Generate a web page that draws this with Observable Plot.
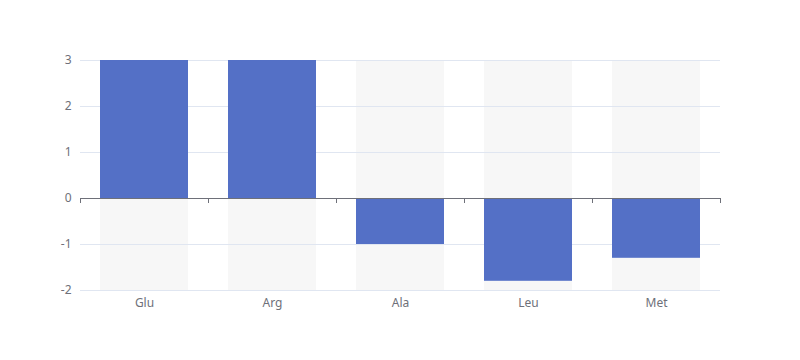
<!DOCTYPE html>
<html>
<head>
<meta charset="utf-8">
<script src="https://cdn.jsdelivr.net/npm/d3@7"></script>
<script src="https://cdn.jsdelivr.net/npm/@observablehq/plot@0.6"></script>
<style>
  html, body { margin: 0; padding: 0; background: #fff; }
  #chart { width: 800px; height: 360px; }
</style>
</head>
<body>
<div id="chart"></div>
<script>
const categories = ["Glu", "Arg", "Ala", "Leu", "Met"];
const values = [3, 3, -1, -1.8, -1.3];
const yTicks = [-2, -1, 0, 1, 2, 3];
const yMin = -2;
const yMax = 3;

const data = categories.map((c, i) => ({ cat: c, value: values[i] }));
const bg = categories.map(c => ({ cat: c, lo: yMin, hi: yMax }));

const textColor = "#6e7079";
const gridColor = "#e0e6f1";
const barColor = "#5470c6";

// zero-line tick marks at category boundaries, positioned via the Plot scales
function boundaryTicks(index, scales, values, dimensions) {
  const x = scales.x, y = scales.y;
  const step = x(categories[1]) - x(categories[0]);
  const left = dimensions.marginLeft;
  const y0 = y(0);
  const g = d3.create("svg:g");
  for (let i = 0; i <= categories.length; i++) {
    const px = left + i * step + 0.5;
    g.append("line")
      .attr("x1", px).attr("x2", px)
      .attr("y1", y0).attr("y2", y0 + 5)
      .attr("stroke", textColor).attr("stroke-width", 1);
  }
  return g.node();
}

const chart = Plot.plot({
  width: 800,
  height: 360,
  marginLeft: 80,
  marginRight: 80,
  marginTop: 60,
  marginBottom: 70,
  style: { fontFamily: "'Noto Sans', 'DejaVu Sans', sans-serif", fontSize: "12px", color: textColor, background: "#fff" },
  x: { domain: categories, paddingInner: 0.3125, paddingOuter: 0.15625, label: null },
  y: { domain: [yMin, yMax], label: null },
  marks: [
    Plot.barY(bg, { x: "cat", y1: "lo", y2: "hi", fill: "#f7f7f7" }),
    Plot.ruleY(yTicks.filter(t => t !== 0), { stroke: gridColor, strokeWidth: 1 }),
    Plot.barY(data, { x: "cat", y: "value", fill: barColor }),
    Plot.ruleY([0], { stroke: textColor, strokeWidth: 1 }),
    boundaryTicks,
    Plot.axisY({ ticks: yTicks, tickFormat: d => String(d), tickSize: 0, tickPadding: 9, fill: textColor, fontSize: 12 }),
    Plot.axisX({ tickSize: 0, tickPadding: 8, fill: textColor, fontSize: 12 })
  ]
});
document.getElementById("chart").appendChild(chart);
</script>
</body>
</html>
